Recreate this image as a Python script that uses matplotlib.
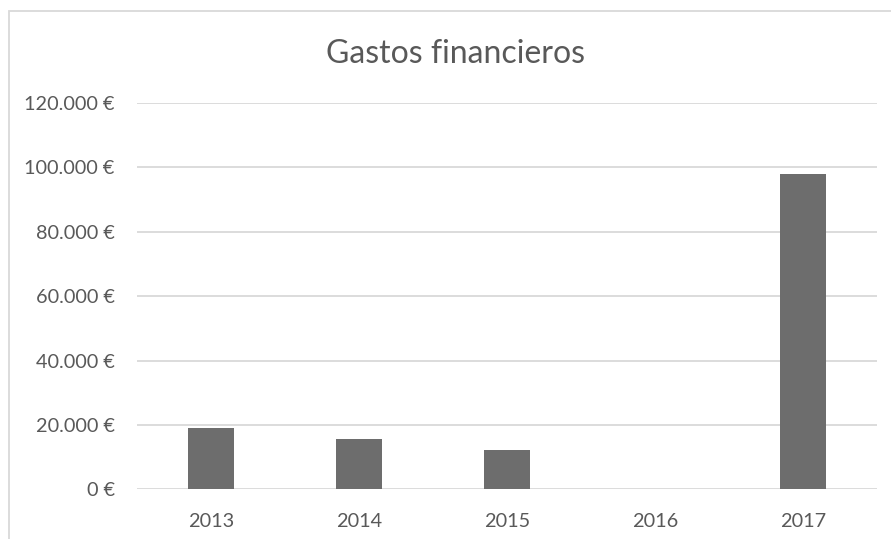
import matplotlib
matplotlib.use("Agg")
import matplotlib.pyplot as plt
from matplotlib.patches import Rectangle
from matplotlib.ticker import FuncFormatter, MultipleLocator

# annual financial expenses, euros
years = ['2013', '2014', '2015', '2016', '2017']
gastos = [19000, 15600, 12100, 0, 97800]

W, H = 891, 539
TEXT = '#595959'
GRID = '#d9d9d9'
BAR = '#6d6d6d'

plt.rcParams['font.family'] = ['Lato', 'DejaVu Sans']


def euros(v, pos):
	"""Spanish style thousands separator with euro sign"""
	return f"{int(round(v)):,}".replace(",", ".") + " €"


fig = plt.figure(figsize=(W / 100, H / 100), dpi=100)

# chart frame
fig.patches.append(Rectangle((9 / W, -0.2), 1.2, 1.2 - 11 / H,
							 transform=fig.transFigure, fill=False,
							 edgecolor=GRID, linewidth=1.3))

ax = fig.add_axes([137 / W, (H - 489.3) / H, 740 / W, (489.3 - 103) / H])
x = range(len(years))
ax.bar(x, gastos, width=0.315, color=BAR, zorder=3)

ax.set_xlim(-0.5, len(years) - 0.5)
ax.set_ylim(0, 120000)
ax.yaxis.set_major_locator(MultipleLocator(20000))
ax.yaxis.set_major_formatter(FuncFormatter(euros))
ax.set_xticks(list(x))
ax.set_xticklabels(years)

ax.grid(axis='y', color=GRID, linewidth=1.3, zorder=0)
for s in ax.spines.values():
	s.set_visible(False)
ax.tick_params(length=0, colors=TEXT, labelsize=14.3)
ax.tick_params(axis='y', pad=16)
ax.tick_params(axis='x', pad=17)

fig.text(456 / W, 1 - 54 / H, 'Gastos financieros', ha='center', va='center',
		 fontsize=23, color=TEXT)

fig.savefig('out.png', dpi=100)
